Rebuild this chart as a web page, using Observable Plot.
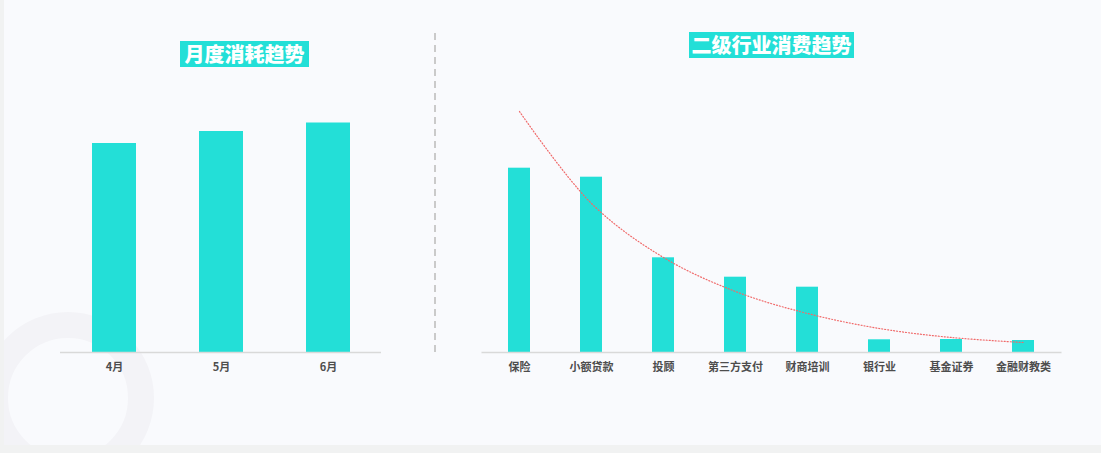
<!DOCTYPE html>
<html>
<head>
<meta charset="utf-8">
<script src="https://cdn.jsdelivr.net/npm/d3@7"></script>
<script src="https://cdn.jsdelivr.net/npm/@observablehq/plot@0.6"></script>
<style>
  html, body { margin: 0; padding: 0; }
  body { width: 1101px; height: 453px; background: #f1f2f2; position: relative; overflow: hidden;
         font-family: "Noto Sans CJK SC", "Noto Sans", sans-serif; }
  #panel { position: absolute; left: 4px; top: 0; width: 1097px; height: 445px; background: #f9fafd; overflow: hidden; }
  #ring { position: absolute; left: -22px; top: 312px; width: 120px; height: 120px; border-radius: 50%;
          border: 26px solid #f3f3f7; }
  .title { position: absolute; height: 26px; line-height: 26px; background: #23dfd7; color: #fff;
           font-weight: 900; font-size: 20px; text-align: center; white-space: nowrap; }
  #t1 { left: 180px; top: 41px; width: 129px; }
  #t2 { left: 689px; top: 32px; width: 165px; }
  .chart { position: absolute; top: 0; }
  #c1 { left: 0; }
  #c2 { left: 440px; }
  #divider { position: absolute; left: 0; top: 0; }
</style>
</head>
<body>
<div id="panel"><div id="ring"></div></div>
<svg id="divider" width="1101" height="453"><line x1="435" x2="435" y1="33" y2="352" stroke="#cacaca" stroke-width="2" stroke-dasharray="7,5"/></svg>
<div class="title" id="t1">月度消耗趋势</div>
<div class="title" id="t2">二级行业消费趋势</div>
<div class="chart" id="c1"></div>
<div class="chart" id="c2"></div>
<script>
// Left chart: monthly consumption (relative units)
const months = ["4月", "5月", "6月"];
const monthValues = [209, 221, 229.5];

// Right chart: secondary industry consumption
const industries = ["保险", "小额贷款", "投顾", "第三方支付", "财商培训", "银行业", "基金证券", "金融财教类"];
const industryValues = [184.3, 175.3, 94.7, 75.3, 65.3, 12.7, 13, 12];
const trendValues = [241, 149, 95, 61, 39, 24, 15, 10];

const teal = "#23dfd7";
const font = "'Noto Sans CJK SC', 'Noto Sans', sans-serif";

const monthData = months.map((m, i) => ({ k: m, v: monthValues[i] }));
const indData = industries.map((k, i) => ({ k, v: industryValues[i], t: trendValues[i] }));

const axisOpts = { tickSize: 0, tickPadding: 11, fontSize: 11, fontWeight: "bold", fill: "#4d4d4d", label: null };

const left = Plot.plot({
  width: 440, height: 400,
  marginLeft: 60, marginRight: 59, marginTop: 112, marginBottom: 48,
  style: { background: "transparent", fontFamily: font },
  x: { domain: months, paddingInner: 0.59, paddingOuter: 0.295, axis: null },
  y: { domain: [0, 240], axis: null },
  marks: [
    Plot.barY(monthData, { x: "k", y: "v", fill: teal }),
    Plot.ruleY([0], { stroke: "#d9d9d9", strokeWidth: 1.5 }),
    Plot.axisX(axisOpts)
  ]
});
document.getElementById("c1").appendChild(left);

const right = Plot.plot({
  width: 661, height: 400,
  marginLeft: 41.5, marginRight: 39.5, marginTop: 102, marginBottom: 48,
  style: { background: "transparent", fontFamily: font },
  x: { domain: industries, paddingInner: 0.69, paddingOuter: 0.345, axis: null },
  y: { domain: [0, 250], axis: null },
  marks: [
    Plot.barY(indData, { x: "k", y: "v", fill: teal }),
    Plot.ruleY([0], { stroke: "#d9d9d9", strokeWidth: 1.5 }),
    Plot.line(indData, { x: "k", y: "t", stroke: "#f06a6a", strokeWidth: 1.2, strokeDasharray: "1,2", curve: "catmull-rom" }),
    Plot.axisX(axisOpts)
  ]
});
document.getElementById("c2").appendChild(right);
</script>
</body>
</html>
